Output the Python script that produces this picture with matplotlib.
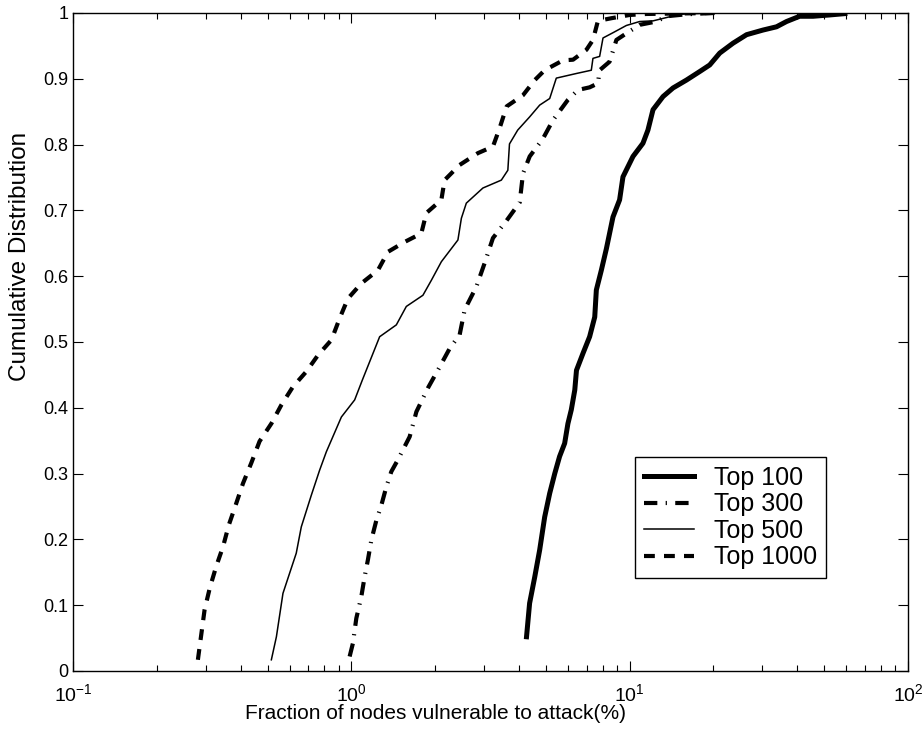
import numpy as np
import matplotlib
matplotlib.use("Agg")
import matplotlib.pyplot as plt
from matplotlib.ticker import LogLocator, NullFormatter, FixedLocator

plt.rcParams['font.family'] = ['Liberation Sans', 'DejaVu Sans']
plt.rcParams['mathtext.fontset'] = 'custom'
plt.rcParams['mathtext.rm'] = 'Liberation Sans'
plt.rcParams['mathtext.it'] = 'Liberation Sans'

# CDF curves: x = fraction of vulnerable nodes (%), y = cumulative fraction
top100_x = [4.26, 4.37, 4.56, 4.75, 4.95, 5.16, 5.38, 5.60, 5.84, 6.00, 6.17, 6.35, 6.44,
            6.80, 7.18, 7.49, 7.59, 7.91, 8.25, 8.71, 9.20, 9.46, 10.28, 11.16, 11.63, 12.13,
            13.18, 14.31, 15.99, 17.85, 19.39, 21.06, 23.5, 26.3, 30.1, 33.7, 36.6, 40.8,
            45.6, 52.3, 59.3]
top100_y = [0.052, 0.103, 0.143, 0.184, 0.234, 0.270, 0.300, 0.326, 0.346, 0.376, 0.397, 0.427,
            0.457, 0.483, 0.508, 0.538, 0.579, 0.609, 0.642, 0.690, 0.716, 0.751, 0.782, 0.802,
            0.822, 0.853, 0.873, 0.886, 0.898, 0.911, 0.921, 0.939, 0.954, 0.967, 0.974, 0.979,
            0.987, 0.995, 0.995, 0.997, 0.999]

top300_x = [0.986, 1.013, 1.042, 1.086, 1.116, 1.147, 1.180, 1.230, 1.282, 1.336, 1.392, 1.47,
            1.62, 1.713, 1.884, 2.076, 2.255, 2.45, 2.554, 2.813, 3.013, 3.227, 3.605, 4.026,
            4.137, 4.373, 4.88, 5.30, 6.00, 6.52, 7.18, 7.69, 7.80, 8.47, 8.96, 9.73, 10.86,
            12.47, 13.55, 15.99, 19.9]
top300_y = [0.022, 0.042, 0.080, 0.113, 0.143, 0.169, 0.199, 0.229, 0.252, 0.280, 0.303, 0.321,
            0.356, 0.394, 0.430, 0.462, 0.490, 0.511, 0.549, 0.584, 0.620, 0.658, 0.684, 0.712,
            0.756, 0.782, 0.809, 0.837, 0.868, 0.883, 0.887, 0.893, 0.913, 0.926, 0.959, 0.969,
            0.982, 0.987, 0.995, 0.998, 1.0]

top500_x = [0.516, 0.538, 0.568, 0.592, 0.634, 0.661, 0.718, 0.769, 0.813, 0.921, 1.028, 1.095,
            1.264, 1.451, 1.576, 1.808, 1.94, 2.106, 2.415, 2.485, 2.589, 2.97, 3.459, 3.65,
            3.70, 3.96, 4.37, 4.75, 5.16, 5.45, 6.43, 7.28, 7.38, 7.80, 8.02, 8.71, 9.73, 10.86,
            12.13, 13.55, 15.13, 19.9]
top500_y = [0.017, 0.052, 0.118, 0.141, 0.179, 0.219, 0.267, 0.305, 0.333, 0.386, 0.412, 0.442,
            0.508, 0.526, 0.554, 0.571, 0.594, 0.622, 0.655, 0.688, 0.711, 0.734, 0.746, 0.761,
            0.801, 0.822, 0.842, 0.860, 0.870, 0.901, 0.908, 0.913, 0.931, 0.934, 0.962, 0.970,
            0.981, 0.987, 0.988, 0.993, 0.998, 1.0]

top1000_x = [0.281, 0.297, 0.310, 0.327, 0.346, 0.363, 0.384, 0.408, 0.437, 0.468, 0.516, 0.560,
             0.617, 0.689, 0.759, 0.848, 0.908, 0.972, 1.086, 1.246, 1.354, 1.554, 1.784, 1.86,
             2.106, 2.163, 2.449, 2.849, 3.227, 3.41, 3.614, 4.137, 4.56, 4.95, 5.76, 6.26,
             6.99, 7.38, 7.69, 8.59, 10.0, 11.48, 20.2]
top1000_y = [0.017, 0.093, 0.126, 0.159, 0.189, 0.222, 0.252, 0.285, 0.316, 0.349, 0.376, 0.404,
             0.432, 0.455, 0.480, 0.503, 0.536, 0.566, 0.589, 0.609, 0.637, 0.652, 0.665, 0.696,
             0.716, 0.746, 0.769, 0.787, 0.797, 0.825, 0.858, 0.875, 0.898, 0.913, 0.928, 0.929,
             0.944, 0.959, 0.988, 0.992, 0.997, 0.9985, 1.0]

fig = plt.figure(figsize=(9.24, 7.33), dpi=100)
ax = fig.add_axes([0.079, 0.0846, 0.9037, 0.8977])

ax.plot(top100_x, top100_y, color='k', lw=3.6, label='Top 100')
ax.plot(top300_x, top300_y, color='k', lw=3.0, linestyle=(0, (3.2, 2.0, 0.3, 2.0)), label='Top 300')
ax.plot(top500_x, top500_y, color='k', lw=1.1, label='Top 500')
ax.plot(top1000_x, top1000_y, color='k', lw=3.0, linestyle=(0, (2.6, 2.2)), label='Top 1000')

ax.set_xscale('log')
ax.set_xlim(0.1, 100)
ax.set_ylim(0, 1)
ax.xaxis.set_major_locator(FixedLocator([0.1, 1, 10, 100]))
ax.set_xticklabels([r'$10^{-1}$', r'$10^{0}$', r'$10^{1}$', r'$10^{2}$'])
ax.xaxis.set_minor_locator(LogLocator(base=10, subs=np.arange(2, 10)))
ax.xaxis.set_minor_formatter(NullFormatter())
yt = np.arange(0, 1.01, 0.1)
ax.set_yticks(yt)
ax.set_yticklabels(['0'] + ['%.1f' % v for v in yt[1:-1]] + ['1'])

ax.tick_params(which='both', direction='in', top=True, right=True, labelsize=13, width=0.8, color='k')
ax.tick_params(which='major', length=7)
ax.tick_params(which='minor', length=4)
ax.tick_params(axis='x', which='major', pad=9, labelsize=14)
for s in ax.spines.values():
    s.set_linewidth(1.0)

ax.set_xlabel('Fraction of nodes vulnerable to attack(%)', fontsize=15, labelpad=0)
ax.xaxis.set_label_coords(0.434, -0.05)
ax.set_ylabel('Cumulative Distribution', fontsize=17.5, labelpad=6)
ax.yaxis.set_label_coords(-0.05, 0.63)

leg = ax.legend(loc='lower left', bbox_to_anchor=(0.673, 0.141), fontsize=18, frameon=True,
                fancybox=False, edgecolor='k', framealpha=1, handlelength=2.0,
                borderpad=0.35, labelspacing=0.1, handletextpad=0.8, borderaxespad=0)
leg.get_frame().set_linewidth(1.0)

fig.savefig('out.png', dpi=100)
